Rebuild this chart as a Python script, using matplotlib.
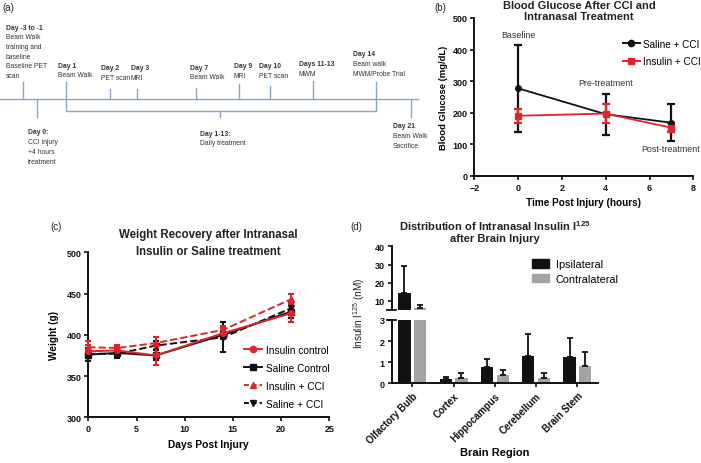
import numpy as np
import matplotlib.pyplot as plt
from matplotlib import font_manager
from matplotlib.lines import Line2D
from matplotlib.patches import Patch

plt.rcParams['font.family'] = ['Liberation Sans', 'DejaVu Sans']
plt.rcParams['mathtext.default'] = 'regular'

# (a) timeline
above_heads = ['Day -3 to -1', 'Day 1', 'Day 2', 'Day 3', 'Day 7', 'Day 9', 'Day 10', 'Days 11-13', 'Day 14']
above_text = [['Beam Walk', 'training and', 'baseline', 'Baseline PET', 'scan'],
              ['Beam Walk'], ['PET scan'], ['MRI'], ['Beam Walk'], ['MRI'], ['PET scan'],
              ['MWM'], ['Beam walk', 'MWM/Probe Trial']]
below_heads = ['Day 0:', 'Day 21']
below_text = [['CCI injury', '+4 hours', 'treatment'], ['Beam Walk', 'Sacrifice']]
bracket_head = 'Day 1-13:'
bracket_text = ['Daily treatment']

# (b) blood glucose
glu_hours = [0, 4, 7]
saline_glu = [277, 195, 168]
saline_glu_err = [137, 65, 59]
insulin_glu = [190, 197, 152]
insulin_glu_err = [23, 31, 14]
glu_notes = ['Baseline', 'Pre-treatment', 'Post-treatment']
glu_note_y = [447, 294, 85]
glu_note_x = [0, 4, 8.3]

# (c) weight
days = [0, 3, 7, 14, 21]
w_ins_ctrl = [380, 381, 375, 402, 426]
w_ins_ctrl_err = [8, 6, 12, 6, 10]
w_sal_ctrl = [376, 378, 375, 400, 428]
w_sal_ctrl_err = [8, 6, 6, 5, 8]
w_ins_cci = [385, 384, 390, 406, 443]
w_ins_cci_err = [7, 4, 7, 5, 6]
w_sal_cci = [377, 377, 387, 397, 432]
w_sal_cci_err = [5, 4, 5, 18, 8]

# (d) insulin distribution
regions = ['Olfactory Bulb', 'Cortex', 'Hippocampus', 'Cerebellum', 'Brain Stem']
ipsi = [14.3, 0.20, 0.77, 1.31, 1.25]
ipsi_err = [15.0, 0.08, 0.38, 1.04, 0.91]
contra = [5.9, 0.24, 0.41, 0.27, 0.82]
contra_err = [1.7, 0.25, 0.24, 0.22, 0.68]

RED = '#e3232b'
BLK = '#111111'
GRY = '#a3a3a3'
LINE_A = '#8aa4cc'
TXT = '#333333'

fig = plt.figure(figsize=(7.01, 4.64), dpi=100)


def px_axes(left, top, right, bottom):
    return fig.add_axes([left / 701, 1 - bottom / 464, (right - left) / 701, (bottom - top) / 464])


def fig_text(px, py, s, **kw):
    return fig.text(px / 701, 1 - py / 464, s, **kw)


def style_axes(ax, size=6.5):
    ax.spines[['top', 'right']].set_visible(False)
    for s in ['left', 'bottom']:
        ax.spines[s].set_linewidth(1.4)
        ax.spines[s].set_color(BLK)
    ax.tick_params(width=1.2, length=3, labelsize=size, colors=BLK, pad=2)
    for lab in ax.get_xticklabels() + ax.get_yticklabels():
        lab.set_fontweight('bold')


# ---- panel (a) ----
installed = {f.name for f in font_manager.fontManager.ttflist}
if 'Liberation Sans Narrow' in installed:
    fam_a, fs_a = ['Liberation Sans Narrow', 'Liberation Sans'], 5.5
else:
    fam_a, fs_a = ['Liberation Sans', 'DejaVu Sans'], 4.9

axa = px_axes(0, 0, 440, 190)
axa.set_xlim(0, 440)
axa.set_ylim(190, 0)
axa.axis('off')

above_tick_x = [23, 66, 110, 137, 196, 239, 270, 313, 376]
above_tick_top = [83, 83, 90, 90, 89, 85, 87, 82, 83]
above_text_x = [6, 58, 101, 131, 190, 234, 259, 299, 353]
above_text_y = [28, 66, 69, 69, 68, 67, 67, 65, 55]
line_y = 100
step = 9.7
ta = dict(fontsize=fs_a, family=fam_a, color=TXT, va='center')

axa.plot([0, 418], [line_y, line_y], color=LINE_A, lw=1)
for i, head in enumerate(above_heads):
    axa.plot([above_tick_x[i]] * 2, [above_tick_top[i], line_y], color=LINE_A, lw=1)
    axa.text(above_text_x[i], above_text_y[i], head, fontweight='bold', **ta)
    for j, t in enumerate(above_text[i]):
        axa.text(above_text_x[i], above_text_y[i] + (j + 1) * step, t, **ta)

below_tick_x = [37, 411]
below_text_x = [28, 393]
below_text_y = [133, 127]
for i, head in enumerate(below_heads):
    axa.plot([below_tick_x[i]] * 2, [line_y, 118], color=LINE_A, lw=1)
    axa.text(below_text_x[i], below_text_y[i], head, fontweight='bold', **ta)
    for j, t in enumerate(below_text[i]):
        axa.text(below_text_x[i], below_text_y[i] + (j + 1) * step, t, **ta)

# bracket for daily treatment
axa.plot([66, 66, 376, 376], [line_y, 112, 112, line_y], color=LINE_A, lw=1)
axa.plot([220, 220], [112, 118], color=LINE_A, lw=1)
axa.text(200, 134, bracket_head, fontweight='bold', **ta)
axa.text(200, 134 + step, bracket_text[0], **ta)

# ---- panel (b) ----
axb = px_axes(474.3, 19, 693.3, 176.7)
axb.errorbar(glu_hours, saline_glu, yerr=saline_glu_err, color=BLK, marker='o', ms=4,
             lw=1.3, elinewidth=1.6, capsize=3, capthick=1.6, zorder=3)
axb.errorbar(glu_hours, insulin_glu, yerr=insulin_glu_err, color=RED, marker='s', ms=4,
             lw=1.3, elinewidth=1.6, capsize=3, capthick=1.6, zorder=3)
axb.set_xlim(-2, 8)
axb.set_ylim(0, 500)
axb.set_xticks([-2, 0, 2, 4, 6, 8])
axb.set_yticks(range(0, 501, 100))
style_axes(axb)
axb.set_xlabel('Time Post Injury (hours)', fontsize=7.2, fontweight='bold', labelpad=4)
axb.set_ylabel('Blood Glucose (mg/dL)', fontsize=6.8, fontweight='bold', labelpad=3)
fig_text(579, 11.5, 'Blood Glucose After CCI and\nIntranasal Treatment', fontsize=8,
         fontweight='bold', ha='center', va='center', linespacing=1.1, color='#222')
for i, (x, y, t) in enumerate(zip(glu_note_x, glu_note_y, glu_notes)):
    axb.text(x, y, t, fontsize=6.4, color=TXT, ha='right' if i == 2 else 'center', va='center')
hb = [Line2D([], [], color=BLK, marker='o', ms=4.5, lw=1.4),
      Line2D([], [], color=RED, marker='s', ms=4.5, lw=1.4)]
axb.legend(hb, ['Saline + CCI', 'Insulin + CCI'], loc='upper left', bbox_to_anchor=(0.655, 0.9),
           frameon=False, fontsize=7.2, handlelength=1.7, handletextpad=0.3, labelspacing=0.75,
           borderpad=0)

# ---- panel (c) ----
axc = px_axes(88.3, 253.3, 329.3, 418.3)
kw = dict(ms=4, lw=1.4, elinewidth=1.5, capsize=2.5, capthick=1.5, clip_on=False, zorder=3)
axc.errorbar(days, w_sal_cci, yerr=w_sal_cci_err, color=BLK, marker='v', ls='--', **kw)
axc.errorbar(days, w_ins_cci, yerr=w_ins_cci_err, color=RED, marker='^', ls='--', **kw)
axc.errorbar(days, w_sal_ctrl, yerr=w_sal_ctrl_err, color=BLK, marker='s', ls='-', **kw)
axc.errorbar(days, w_ins_ctrl, yerr=w_ins_ctrl_err, color=RED, marker='o', ls='-', **kw)
axc.set_xlim(0, 25)
axc.set_ylim(300, 500)
axc.set_xticks(range(0, 26, 5))
axc.set_yticks(range(300, 501, 50))
style_axes(axc)
axc.set_xlabel('Days Post Injury', fontsize=7.4, fontweight='bold', labelpad=4)
axc.set_ylabel('Weight (g)', fontsize=7.2, fontweight='bold', labelpad=5)
fig_text(208, 243.5, 'Weight Recovery after Intranasal\nInsulin or Saline treatment', fontsize=8.3,
         fontweight='bold', ha='center', va='center', linespacing=1.45, color='#222')
hc = [Line2D([], [], color=RED, marker='o', ms=4.5, lw=1.4, ls='-'),
      Line2D([], [], color=BLK, marker='s', ms=4.5, lw=1.4, ls='-'),
      Line2D([], [], color=RED, marker='^', ms=4.5, lw=1.4, ls='--', dashes=(2.5, 1.5)),
      Line2D([], [], color=BLK, marker='v', ms=4.5, lw=1.4, ls='--', dashes=(2.5, 1.5))]
axc.legend(hc, ['Insulin control', 'Saline Control', 'Insulin + CCI', 'Saline + CCI'],
           loc='upper left', bbox_to_anchor=(0.625, 0.47), frameon=False,
           fontsize=7.3, handlelength=1.8, handletextpad=0.4, labelspacing=0.78, borderpad=0)

# ---- panel (d) ----
axd_top = px_axes(391.7, 247.3, 598, 311)
axd_bot = px_axes(391.7, 321, 598, 384.3)
x = np.arange(len(regions))
off, bw = 0.19, 0.30
for ax in (axd_top, axd_bot):
    ax.bar(x - off, ipsi, bw, color=BLK)
    ax.bar(x + off, contra, bw, color=GRY)
    ax.errorbar(x - off, ipsi, yerr=[np.zeros(len(ipsi)), ipsi_err], fmt='none', ecolor=BLK,
                elinewidth=1.3, capsize=2.2, capthick=1.3)
    ax.errorbar(x + off, contra, yerr=[np.zeros(len(contra)), contra_err], fmt='none', ecolor=BLK,
                elinewidth=1.3, capsize=2.2, capthick=1.3)
    ax.set_xlim(-0.5, 4.5)

axd_top.set_ylim(5, 40)
axd_top.set_yticks([10, 20, 30, 40])
style_axes(axd_top)
axd_top.spines['bottom'].set_visible(False)
axd_top.tick_params(axis='x', bottom=False, labelbottom=False)
axd_bot.set_ylim(0, 3)
axd_bot.set_yticks([0, 1, 2, 3])
axd_bot.set_xticks(x)
axd_bot.set_xticklabels(regions, rotation=45, ha='right', rotation_mode='anchor', fontsize=7)
style_axes(axd_bot)
axd_bot.tick_params(axis='x', labelsize=7)
# break marks
axd_top.plot([-0.025, 0.02], [0, 0], transform=axd_top.transAxes, color=BLK, lw=1.3, clip_on=False)
axd_bot.plot([-0.025, 0.02], [1, 1], transform=axd_bot.transAxes, color=BLK, lw=1.3, clip_on=False)

axd_bot.set_xlabel('Brain Region', fontsize=8, fontweight='bold', labelpad=2)
fig_text(359, 313, 'Insulin I$^{125}$ (nM)', rotation=90, ha='center', va='center',
         fontsize=7.2, color='#222')
fig_text(495, 231.5, 'Distribution of Intranasal Insulin I$^{125}$\nafter Brain Injury', fontsize=8,
         fontweight='bold', ha='center', va='center', linespacing=1.15, color='#222')
axd_top.legend(handles=[Patch(color=BLK), Patch(color=GRY)], labels=['Ipsilateral', 'Contralateral'],
               loc='upper left', bbox_to_anchor=(0.655, 0.88), frameon=False, fontsize=7.8,
               handlelength=1.55, handleheight=0.8, handletextpad=0.6, labelspacing=0.4, borderpad=0)

# panel letters
for px, py, lab in [(2, 8, '(a)'), (434, 8, '(b)'), (50, 227, '(c)'), (350, 227, '(d)')]:
    fig_text(px, py, lab, fontsize=7, va='center', color='#222')

fig.savefig('out.png', dpi=100)
